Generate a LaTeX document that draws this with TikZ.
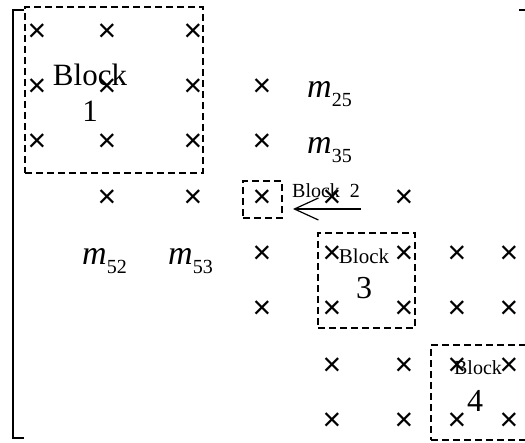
\documentclass[tikz,border=0pt]{standalone}
\usepackage{fontspec}
\setmainfont{Liberation Serif}
\newfontfamily\crossfont{Liberation Sans}
\usetikzlibrary{arrows.meta}
\begin{document}
\begin{tikzpicture}[x=1pt,y=-1pt,
  cross/.style={font=\crossfont\fontsize{32}{32}\selectfont, inner sep=0pt, anchor=center},
  blk/.style={draw, dash pattern=on 7pt off 4pt, line width=1.3pt, inner sep=0pt},
  biglbl/.style={font=\fontsize{31}{36}\selectfont, align=center, inner sep=0pt},
  midlbl/.style={font=\fontsize{21}{21}\selectfont, inner sep=0pt},
  mlbl/.style={font=\fontsize{34}{34}\selectfont, inner sep=0pt, anchor=base west},
  bracket/.style={line width=1.5pt}]
\useasboundingbox (0,0) rectangle (525,442);
% crosses
\foreach \x/\y/\n in {
  37/32/a11,107/32/a12,193/32/a13,
  37/87/a21,107/87/a22,193/87/a23,262/87/a24,
  37/142/a31,107/142/a32,193/142/a33,262/142/a34,
  107/198/a42,193/198/a43,262/198/a44,332/198/a45,404/198/a46,
  262/254/a54,332/254/a55,404/254/a56,457/254/a57,509/254/a58,
  262/309/a64,332/309/a65,404/309/a66,457/309/a67,509/309/a68,
  332/366/a75,404/366/a76,457/366/a77,509/366/a78,
  332/421/a85,404/421/a86,457/421/a87,509/421/a88}
  \node[cross] (\n) at (\x,\y+1) {×};
% m labels
\node[mlbl] (m25) at (307,97) {\textit{m}\raisebox{-9pt}{\fontsize{20}{20}\selectfont 25}};
\node[mlbl] (m35) at (307,153) {\textit{m}\raisebox{-9pt}{\fontsize{20}{20}\selectfont 35}};
\node[mlbl] (m52) at (82,264) {\textit{m}\raisebox{-9pt}{\fontsize{20}{20}\selectfont 52}};
\node[mlbl] (m53) at (168,264) {\textit{m}\raisebox{-9pt}{\fontsize{20}{20}\selectfont 53}};
% blocks
\node[blk, minimum width=178pt, minimum height=166pt] (b1) at (114,90) {};
\node[blk, minimum width=39pt, minimum height=37pt] (b2) at (262.5,199.5) {};
\node[blk, minimum width=97pt, minimum height=95pt] (b3) at (366.5,280.5) {};
\node[blk, minimum width=110pt, minimum height=95pt] (b4) at (486,392.5) {};
% block labels
\node[biglbl] (l1) at (90,93) {Block\\1};
\node[midlbl, anchor=base] (l3a) at (364,263) {Block};
\node[font=\fontsize{32}{32}\selectfont, inner sep=0pt] (l3b) at (364,288) {3};
\node[font=\fontsize{20}{20}\selectfont, inner sep=0pt, anchor=base] (l4a) at (478,374) {Block};
\node[font=\fontsize{32}{32}\selectfont, inner sep=0pt] (l4b) at (475,401) {4};
\node[font=\fontsize{20}{20}\selectfont, inner sep=0pt, anchor=base west] (l2) at (292,197) {Block\hspace{0.5em}2};
% arrow
\coordinate (arS) at (361,209);
\coordinate (arE) at (293,209);
\draw[line width=1.3pt, -{Straight Barb[length=24pt,width=22pt,line width=1.2pt]}] (arS) -- (arE);
% bracket
\coordinate (bt) at (13,10);
\coordinate (bb) at (13,438);
\draw[bracket] ([xshift=11pt]bt) -- (bt) -- (bb) -- ([xshift=11pt]bb);
\coordinate (rt) at (519,10);
\draw[bracket] (rt) -- ++(8,0);
\end{tikzpicture}
\end{document}
